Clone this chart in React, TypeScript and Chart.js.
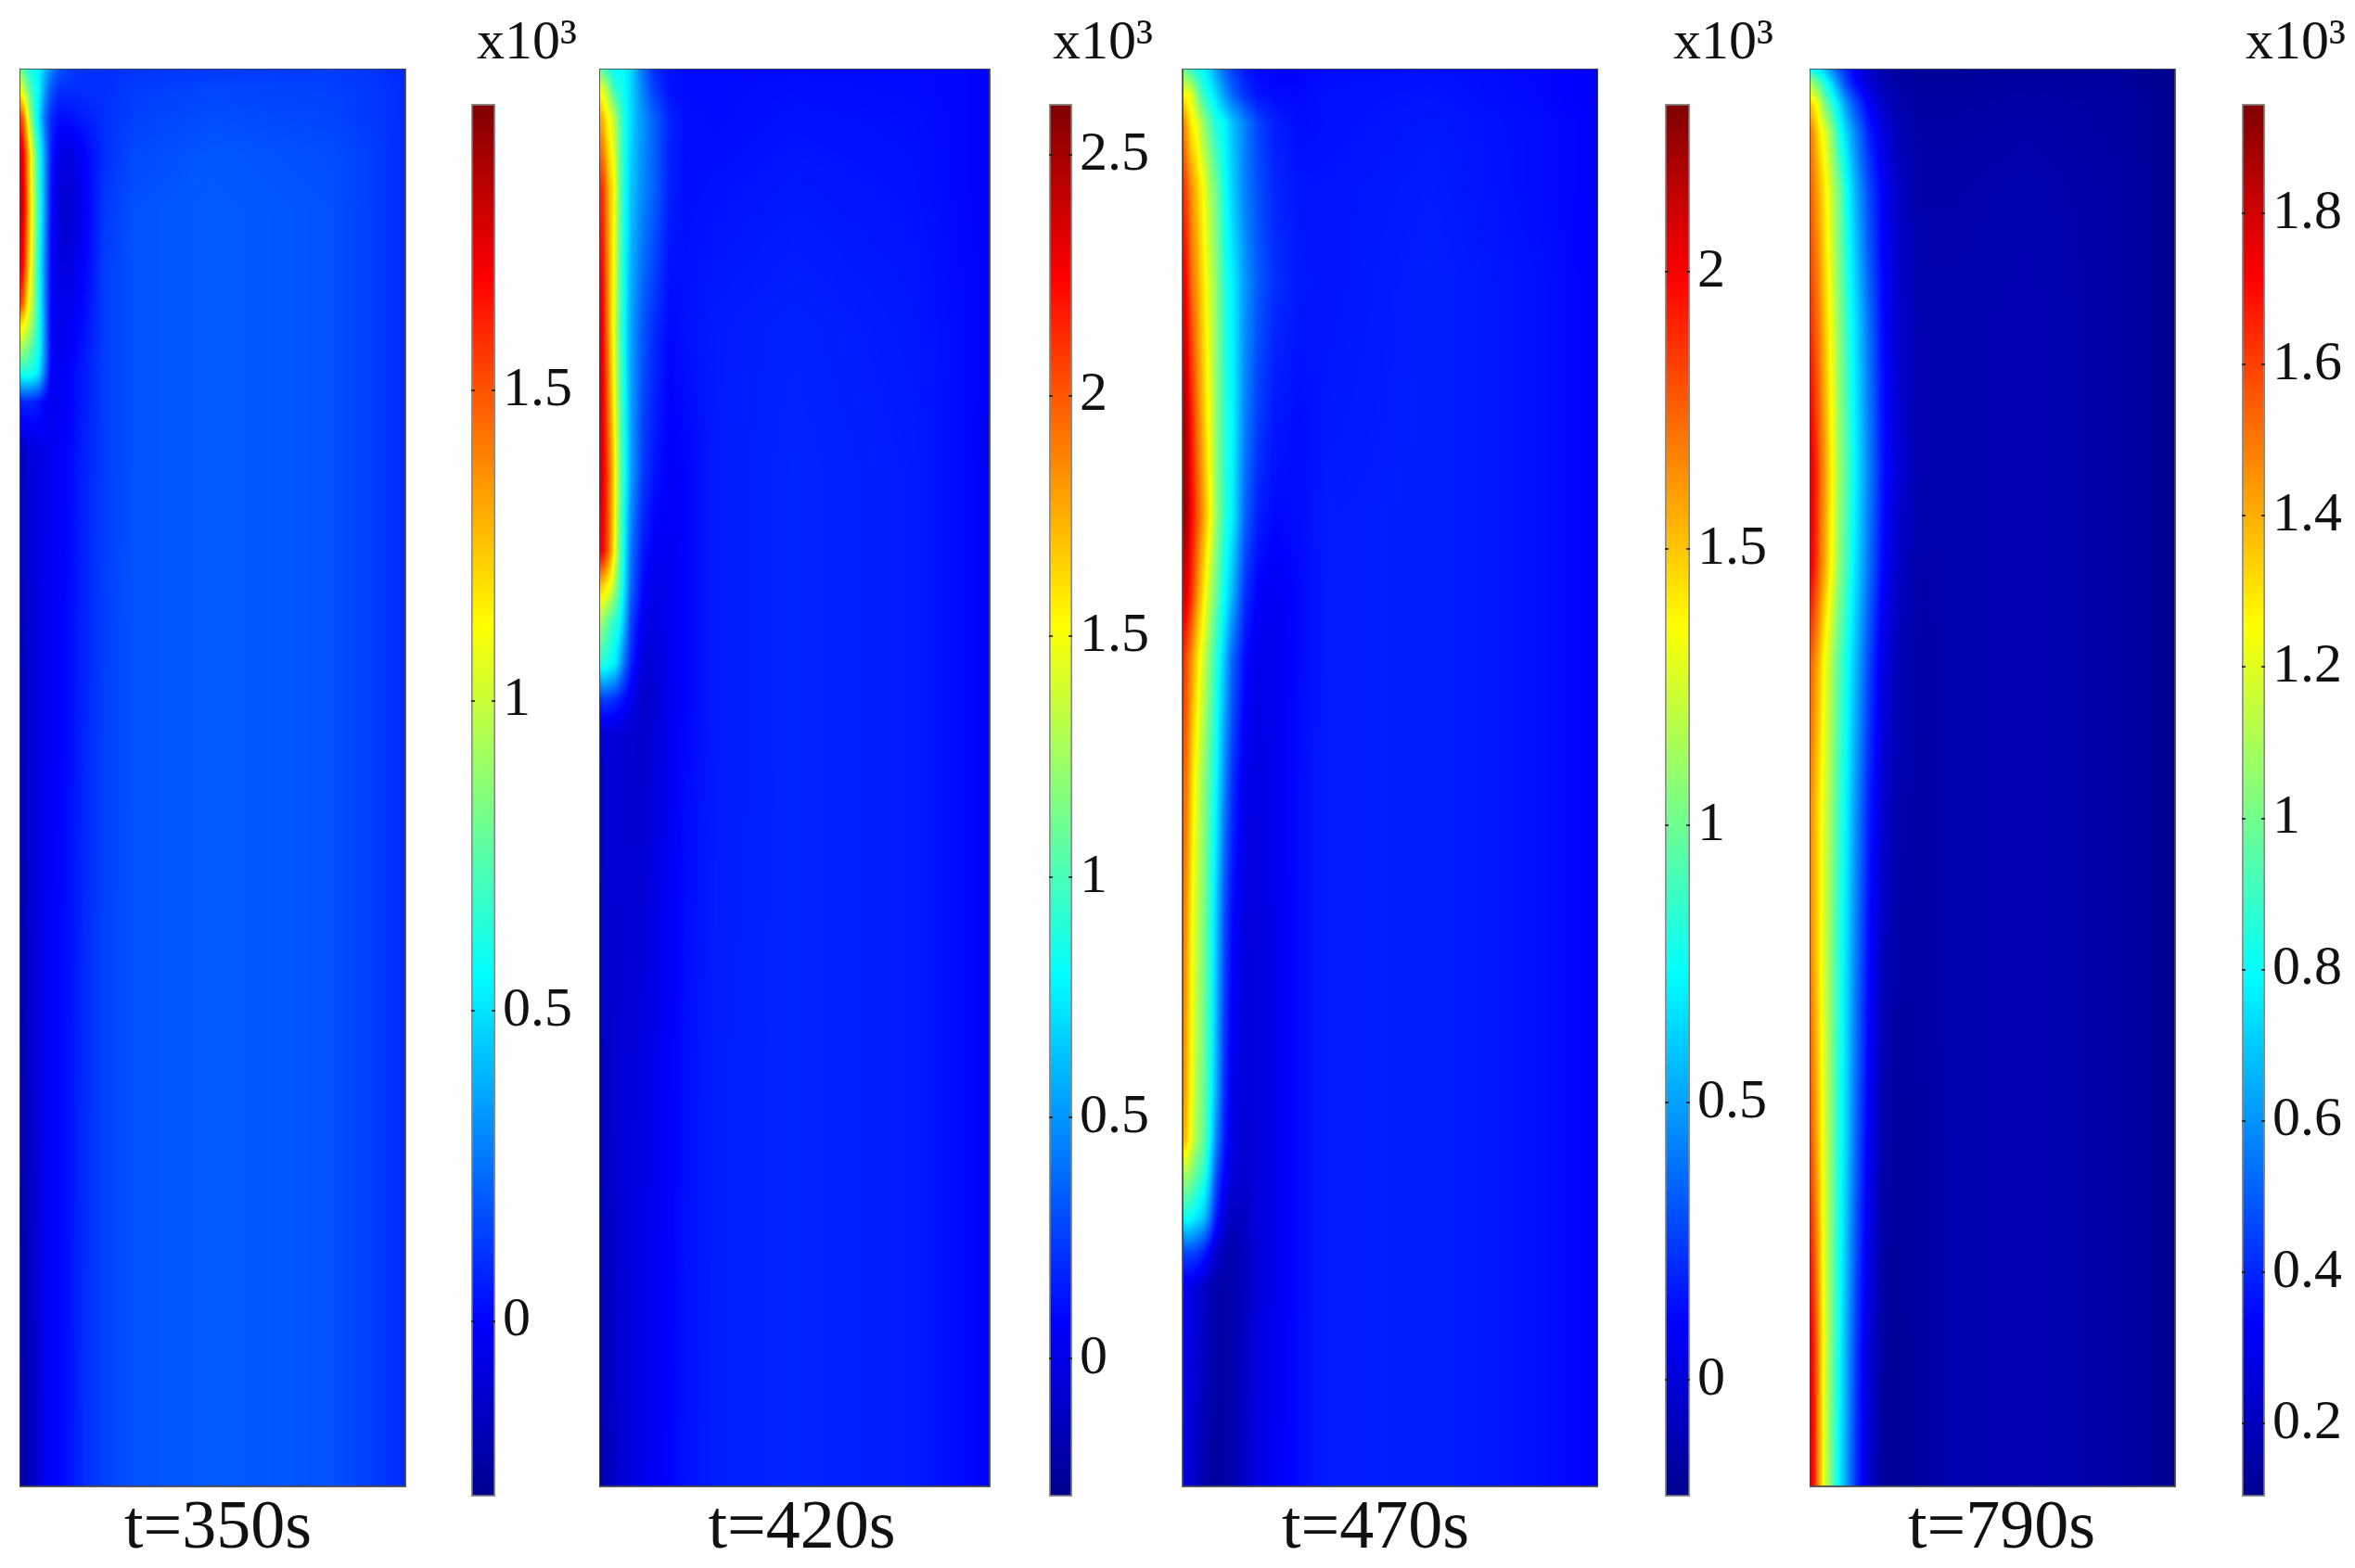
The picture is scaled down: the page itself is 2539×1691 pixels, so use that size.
import React, { useEffect, useRef } from "react";
import { Chart, registerables } from "chart.js";

Chart.register(...registerables);

// ---- data (values in units of 10^3) ----
const labels = ["t=350s", "t=420s", "t=470s", "t=790s"];

const ticks350 = [1.5, 1, 0.5, 0];
const ticks420 = [2.5, 2, 1.5, 1, 0.5, 0];
const ticks470 = [2, 1.5, 1, 0.5, 0];
const ticks790 = [1.8, 1.6, 1.4, 1.2, 1, 0.8, 0.6, 0.4, 0.2];

const range350 = [-0.283, 1.962];
const range420 = [-0.287, 2.606];
const range470 = [-0.211, 2.303];
const range790 = [0.103, 1.945];

const jetStops = [
  [0, 0, 0, 143],
  [0.125, 0, 0, 255],
  [0.375, 0, 255, 255],
  [0.625, 255, 255, 0],
  [0.875, 255, 0, 0],
  [1, 128, 0, 0],
];

const cols350 = [0, 1, 2, 3, 4, 5, 6.5, 8, 10, 13, 17, 22, 30, 50, 80, 92, 100];
const rows350 = [0, 1.5, 3.5, 6, 10, 14, 16.5, 18, 20, 21.5, 23.5, 27, 60, 100];
const field350 = [
  [0.85, 0.75, 0.65, 0.6, 0.58, 0.55, 0.42, 0.3, 0.2, 0.13, 0.1, 0.1, 0.11, 0.12, 0.13, 0.11, 0.08],
  [1.1, 1.0, 0.85, 0.7, 0.62, 0.55, 0.35, 0.2, 0.1, 0.1, 0.1, 0.1, 0.13, 0.15, 0.14, 0.12, 0.09],
  [1.6, 1.45, 1.15, 0.85, 0.65, 0.5, 0.25, 0.1, 0.02, 0.03, 0.06, 0.1, 0.14, 0.17, 0.15, 0.12, 0.09],
  [1.8, 1.7, 1.4, 1.1, 0.85, 0.62, 0.35, 0.08, -0.05, -0.08, 0.0, 0.1, 0.16, 0.19, 0.17, 0.13, 0.09],
  [1.85, 1.75, 1.45, 1.15, 0.9, 0.65, 0.35, 0.05, -0.1, -0.12, -0.02, 0.12, 0.18, 0.2, 0.18, 0.13, 0.09],
  [1.75, 1.65, 1.35, 1.1, 0.85, 0.6, 0.3, 0.03, -0.08, -0.08, 0.0, 0.13, 0.18, 0.2, 0.18, 0.13, 0.09],
  [1.6, 1.45, 1.2, 1.0, 0.82, 0.62, 0.3, 0.02, -0.05, -0.05, 0.02, 0.13, 0.18, 0.2, 0.18, 0.13, 0.09],
  [1.2, 1.15, 1.05, 0.92, 0.78, 0.62, 0.32, 0.02, -0.05, -0.03, 0.03, 0.13, 0.18, 0.2, 0.18, 0.13, 0.09],
  [0.88, 0.85, 0.8, 0.72, 0.66, 0.58, 0.32, 0.03, -0.04, -0.02, 0.05, 0.13, 0.18, 0.2, 0.18, 0.13, 0.09],
  [0.58, 0.62, 0.62, 0.6, 0.56, 0.5, 0.25, 0.0, -0.03, 0, 0.06, 0.13, 0.18, 0.2, 0.18, 0.13, 0.09],
  [0.05, 0.08, 0.08, 0.08, 0.06, 0.05, 0.0, -0.04, -0.03, 0, 0.06, 0.13, 0.18, 0.2, 0.18, 0.13, 0.09],
  [-0.15, -0.13, -0.12, -0.1, -0.08, -0.07, -0.05, -0.04, -0.02, 0.01, 0.07, 0.13, 0.18, 0.2, 0.18, 0.13, 0.09],
  [-0.2, -0.18, -0.15, -0.12, -0.1, -0.08, -0.05, -0.02, 0, 0.03, 0.09, 0.14, 0.18, 0.2, 0.18, 0.13, 0.09],
  [-0.24, -0.22, -0.2, -0.17, -0.14, -0.1, -0.05, -0.02, 0, 0.04, 0.1, 0.14, 0.18, 0.2, 0.18, 0.13, 0.09],
];

const cols420 = [0, 1, 2, 3, 4, 5, 6.5, 8, 11, 14, 18, 22, 30, 50, 80, 92, 100];
const rows420 = [0, 1.5, 3.5, 8.5, 18.5, 28.5, 34, 36.5, 39, 42, 44.5, 47, 70, 100];
const field420 = [
  [1.1, 1.0, 0.95, 0.85, 0.8, 0.8, 0.78, 0.7, 0.4, 0.2, 0.12, 0.1, 0.1, 0.1, 0.1, 0.09, 0.08],
  [1.5, 1.45, 1.3, 1.1, 0.95, 0.9, 0.8, 0.7, 0.45, 0.25, 0.12, 0.1, 0.1, 0.11, 0.1, 0.09, 0.08],
  [1.8, 1.7, 1.55, 1.45, 1.3, 1.1, 0.85, 0.7, 0.5, 0.35, 0.17, 0.11, 0.1, 0.12, 0.11, 0.09, 0.08],
  [2.15, 2.1, 1.85, 1.65, 1.5, 1.15, 0.85, 0.65, 0.47, 0.35, 0.16, 0.11, 0.12, 0.14, 0.12, 0.09, 0.08],
  [2.4, 2.25, 1.95, 1.65, 1.4, 1.1, 0.8, 0.55, 0.32, 0.2, 0.09, 0.12, 0.15, 0.17, 0.14, 0.1, 0.08],
  [2.45, 2.3, 2.1, 1.85, 1.55, 1.2, 0.85, 0.55, 0.25, 0.13, 0.06, 0.08, 0.15, 0.18, 0.15, 0.1, 0.07],
  [2.3, 2.25, 2.05, 1.8, 1.5, 1.15, 0.78, 0.42, 0.15, 0.05, 0.04, 0.08, 0.15, 0.18, 0.15, 0.1, 0.07],
  [1.7, 1.65, 1.55, 1.45, 1.25, 1.05, 0.72, 0.38, 0.1, 0.0, 0.03, 0.08, 0.15, 0.18, 0.15, 0.1, 0.07],
  [1.3, 1.2, 1.1, 0.98, 0.92, 0.85, 0.6, 0.28, 0.03, -0.02, 0.03, 0.08, 0.15, 0.18, 0.15, 0.1, 0.07],
  [0.85, 0.88, 0.85, 0.8, 0.75, 0.62, 0.38, 0.18, -0.04, -0.05, 0.03, 0.08, 0.15, 0.18, 0.15, 0.1, 0.07],
  [0.2, 0.25, 0.25, 0.22, 0.2, 0.16, 0.1, 0.02, -0.09, -0.07, 0.02, 0.08, 0.15, 0.18, 0.15, 0.1, 0.07],
  [-0.1, -0.08, -0.07, -0.06, -0.06, -0.06, -0.07, -0.08, -0.09, -0.05, 0.03, 0.09, 0.15, 0.18, 0.15, 0.1, 0.07],
  [-0.14, -0.12, -0.1, -0.08, -0.07, -0.06, -0.05, -0.04, -0.02, 0.02, 0.06, 0.11, 0.16, 0.18, 0.15, 0.1, 0.07],
  [-0.2, -0.18, -0.15, -0.12, -0.1, -0.08, -0.05, -0.03, 0, 0.04, 0.08, 0.12, 0.16, 0.18, 0.15, 0.1, 0.07],
];

const cols470 = [0, 1, 2, 3.5, 5, 6.5, 8, 10, 12, 15, 18, 22, 28, 35, 60, 85, 100];
const rows470 = [0, 1.8, 3.8, 8.5, 15, 25, 31.5, 37, 41.5, 50, 60, 72, 75.5, 78, 81, 83.5, 86, 100];
const field470 = [
  [1.0, 0.95, 0.85, 0.78, 0.72, 0.62, 0.5, 0.35, 0.25, 0.16, 0.12, 0.11, 0.11, 0.13, 0.14, 0.12, 0.09],
  [1.35, 1.35, 1.3, 1.05, 0.85, 0.75, 0.65, 0.48, 0.35, 0.22, 0.15, 0.12, 0.12, 0.14, 0.15, 0.12, 0.09],
  [1.7, 1.55, 1.4, 1.3, 1.1, 0.95, 0.8, 0.72, 0.58, 0.42, 0.27, 0.18, 0.13, 0.14, 0.16, 0.13, 0.1],
  [1.9, 1.8, 1.65, 1.5, 1.35, 1.15, 1.02, 0.78, 0.62, 0.42, 0.3, 0.2, 0.15, 0.15, 0.17, 0.13, 0.1],
  [2.05, 1.95, 1.75, 1.6, 1.42, 1.25, 1.1, 0.83, 0.7, 0.48, 0.33, 0.22, 0.16, 0.15, 0.18, 0.14, 0.1],
  [2.25, 2.15, 1.95, 1.72, 1.52, 1.32, 1.1, 0.85, 0.72, 0.42, 0.25, 0.16, 0.13, 0.16, 0.18, 0.14, 0.1],
  [2.25, 2.2, 2.0, 1.8, 1.6, 1.38, 1.12, 0.85, 0.7, 0.35, 0.18, 0.12, 0.13, 0.17, 0.18, 0.14, 0.1],
  [2.1, 2.05, 1.9, 1.65, 1.42, 1.2, 1.0, 0.75, 0.55, 0.22, 0.1, 0.07, 0.12, 0.17, 0.18, 0.14, 0.1],
  [1.9, 1.8, 1.65, 1.45, 1.25, 1.05, 0.85, 0.6, 0.35, 0.13, 0.05, 0.06, 0.12, 0.17, 0.18, 0.14, 0.1],
  [1.75, 1.7, 1.5, 1.28, 1.1, 0.92, 0.75, 0.45, 0.22, 0.05, 0.02, 0.06, 0.13, 0.17, 0.18, 0.14, 0.1],
  [1.7, 1.6, 1.4, 1.2, 1.05, 0.85, 0.62, 0.3, 0.12, 0.02, 0.01, 0.05, 0.13, 0.17, 0.18, 0.14, 0.1],
  [1.65, 1.55, 1.35, 1.15, 1.0, 0.8, 0.55, 0.22, 0.05, 0.0, 0.01, 0.05, 0.13, 0.17, 0.18, 0.14, 0.1],
  [1.55, 1.5, 1.3, 1.12, 0.98, 0.75, 0.45, 0.18, 0.03, -0.02, 0.01, 0.05, 0.13, 0.17, 0.18, 0.14, 0.1],
  [1.1, 1.15, 1.05, 0.95, 0.85, 0.62, 0.32, 0.1, 0, -0.04, 0.01, 0.05, 0.13, 0.17, 0.18, 0.14, 0.1],
  [0.75, 0.78, 0.75, 0.68, 0.6, 0.42, 0.18, 0.0, -0.08, -0.06, 0.01, 0.05, 0.13, 0.17, 0.18, 0.14, 0.1],
  [0.25, 0.28, 0.27, 0.25, 0.18, 0.08, -0.03, -0.1, -0.12, -0.07, 0.0, 0.05, 0.13, 0.17, 0.18, 0.14, 0.1],
  [0.05, 0.05, 0.03, 0.0, -0.05, -0.1, -0.13, -0.15, -0.12, -0.07, 0.0, 0.05, 0.13, 0.17, 0.18, 0.14, 0.1],
  [0.02, 0.0, -0.03, -0.07, -0.12, -0.15, -0.17, -0.16, -0.12, -0.05, 0.03, 0.07, 0.13, 0.17, 0.18, 0.14, 0.1],
];

const cols790 = [0, 1, 2.5, 4, 6, 8, 10, 13, 16, 20, 24, 30, 40, 60, 85, 95, 100];
const rows790 = [0, 1, 2.5, 4.5, 8.5, 18.5, 28.5, 35, 42, 52, 62, 75, 90, 100];
const field790 = [
  [0.8, 0.78, 0.75, 0.68, 0.58, 0.48, 0.4, 0.3, 0.22, 0.17, 0.14, 0.12, 0.12, 0.13, 0.13, 0.11, 0.1],
  [1.1, 1.05, 0.95, 0.85, 0.72, 0.58, 0.45, 0.33, 0.25, 0.18, 0.15, 0.13, 0.13, 0.14, 0.13, 0.11, 0.1],
  [1.35, 1.3, 1.2, 1.02, 0.88, 0.75, 0.6, 0.45, 0.33, 0.22, 0.17, 0.14, 0.14, 0.15, 0.14, 0.12, 0.1],
  [1.5, 1.45, 1.3, 1.22, 1.05, 0.85, 0.72, 0.55, 0.4, 0.27, 0.19, 0.15, 0.15, 0.16, 0.14, 0.12, 0.1],
  [1.55, 1.5, 1.4, 1.3, 1.15, 1.0, 0.83, 0.63, 0.47, 0.32, 0.22, 0.16, 0.16, 0.17, 0.15, 0.12, 0.1],
  [1.65, 1.6, 1.5, 1.38, 1.22, 1.05, 0.9, 0.72, 0.55, 0.35, 0.24, 0.17, 0.17, 0.18, 0.15, 0.12, 0.1],
  [1.78, 1.72, 1.58, 1.45, 1.27, 1.08, 0.95, 0.75, 0.58, 0.37, 0.25, 0.17, 0.17, 0.18, 0.15, 0.12, 0.1],
  [1.75, 1.7, 1.55, 1.42, 1.25, 1.05, 0.92, 0.72, 0.55, 0.34, 0.22, 0.16, 0.17, 0.18, 0.15, 0.12, 0.1],
  [1.55, 1.5, 1.38, 1.25, 1.1, 0.95, 0.83, 0.65, 0.47, 0.28, 0.19, 0.15, 0.17, 0.18, 0.15, 0.12, 0.1],
  [1.48, 1.42, 1.3, 1.2, 1.05, 0.9, 0.78, 0.58, 0.4, 0.24, 0.17, 0.15, 0.17, 0.18, 0.15, 0.12, 0.1],
  [1.5, 1.42, 1.3, 1.18, 1.02, 0.87, 0.74, 0.54, 0.36, 0.2, 0.15, 0.15, 0.17, 0.18, 0.15, 0.12, 0.1],
  [1.6, 1.5, 1.35, 1.2, 1.02, 0.85, 0.72, 0.5, 0.32, 0.17, 0.13, 0.14, 0.17, 0.18, 0.15, 0.12, 0.1],
  [1.75, 1.68, 1.45, 1.22, 1.0, 0.82, 0.65, 0.42, 0.26, 0.14, 0.12, 0.14, 0.17, 0.18, 0.15, 0.12, 0.1],
  [1.78, 1.7, 1.45, 1.2, 0.98, 0.78, 0.62, 0.4, 0.24, 0.13, 0.12, 0.14, 0.17, 0.18, 0.15, 0.12, 0.1],
];

// ---- layout ----
const SERIF = "'Liberation Serif', 'Times New Roman', serif";
const PANEL_TOP = 74;
const PANEL_H = 1529;
const BAR_TOP = 112;
const BAR_H = 1502;
const TITLE_TOP = 17;

const panels = [
  { label: labels[0], cols: cols350, rows: rows350, field: field350, range: range350, ticks: ticks350, x: 21, w: 416, labelShift: 6, barX: 508, barW: 26, barEnd: 622 },
  { label: labels[1], cols: cols420, rows: rows420, field: field420, range: range420, ticks: ticks420, x: 646, w: 421, labelShift: 8, barX: 1131, barW: 25, barEnd: 1243 },
  { label: labels[2], cols: cols470, rows: rows470, field: field470, range: range470, ticks: ticks470, x: 1275, w: 448, labelShift: -16, barX: 1795, barW: 27, barEnd: 1912 },
  { label: labels[3], cols: cols790, rows: rows790, field: field790, range: range790, ticks: ticks790, x: 1951, w: 394, labelShift: 10, barX: 2417, barW: 25, barEnd: 2529 },
];

function jet(t: number): [number, number, number] {
  const c = Math.max(0, Math.min(1, t));
  for (let i = 1; i < jetStops.length; i++) {
    const a = jetStops[i - 1];
    const b = jetStops[i];
    if (c <= b[0]) {
      const f = (c - a[0]) / (b[0] - a[0]);
      return [a[1] + (b[1] - a[1]) * f, a[2] + (b[2] - a[2]) * f, a[3] + (b[3] - a[3]) * f];
    }
  }
  return [128, 0, 0];
}

function locate(arr: number[], v: number): [number, number] {
  let i = 0;
  while (i < arr.length - 2 && v > arr[i + 1]) i++;
  const f = (v - arr[i]) / (arr[i + 1] - arr[i]);
  return [i, Math.max(0, Math.min(1, f))];
}

function heatPlugin(p: (typeof panels)[number]) {
  return {
    id: "field",
    afterDatasetsDraw(chart: any) {
      const { ctx, chartArea, scales } = chart;
      const left = Math.round(chartArea.left);
      const top = Math.round(chartArea.top);
      const w = Math.round(chartArea.right - chartArea.left);
      const h = Math.round(chartArea.bottom - chartArea.top);
      const img = ctx.createImageData(w, h);
      const xLoc = [];
      for (let px = 0; px < w; px++) xLoc.push(locate(p.cols, scales.x.getValueForPixel(left + px + 0.5)));
      const [lo, hi] = p.range;
      for (let py = 0; py < h; py++) {
        const [ri, rf] = locate(p.rows, scales.y.getValueForPixel(top + py + 0.5));
        const r0 = p.field[ri];
        const r1 = p.field[ri + 1];
        for (let px = 0; px < w; px++) {
          const [ci, cf] = xLoc[px];
          const a = r0[ci] + (r0[ci + 1] - r0[ci]) * cf;
          const b = r1[ci] + (r1[ci + 1] - r1[ci]) * cf;
          const v = a + (b - a) * rf;
          const [R, G, B] = jet((v - lo) / (hi - lo));
          const k = (py * w + px) * 4;
          img.data[k] = R;
          img.data[k + 1] = G;
          img.data[k + 2] = B;
          img.data[k + 3] = 255;
        }
      }
      ctx.putImageData(img, left, top);
      ctx.save();
      ctx.strokeStyle = "rgba(70,70,70,0.85)";
      ctx.lineWidth = 2;
      ctx.strokeRect(left, top, w, h);
      ctx.restore();
    },
  };
}

function barGradient(chart: any) {
  const area = chart.chartArea;
  if (!area) return "#0000ff";
  const g = chart.ctx.createLinearGradient(0, area.bottom, 0, area.top);
  jetStops.forEach((s) => g.addColorStop(s[0], `rgb(${s[1]},${s[2]},${s[3]})`));
  return g;
}

function HeatPanel({ p }: { p: (typeof panels)[number] }) {
  const ref = useRef<HTMLCanvasElement>(null);
  const gutter = 2 * Math.abs(p.labelShift);
  const gutterLeft = p.labelShift < 0;
  const width = p.w + gutter;
  const height = PANEL_H + 84;
  useEffect(() => {
    const nodes: { x: number; y: number }[] = [];
    p.rows.forEach((y) => p.cols.forEach((x) => nodes.push({ x, y })));
    const chart = new Chart(ref.current as HTMLCanvasElement, {
      type: "scatter",
      data: { datasets: [{ label: p.label, data: nodes, pointRadius: 0, showLine: false }] },
      options: {
        animation: false,
        responsive: false,
        devicePixelRatio: 1,
        plugins: {
          legend: { display: false },
          tooltip: { enabled: false },
          title: {
            display: true,
            text: p.label,
            position: "bottom",
            align: "center",
            color: "#111",
            font: { family: SERIF, size: 74, weight: "normal", lineHeight: 1 },
            padding: { top: 10, bottom: 0 },
          },
        },
        scales: {
          x: { type: "linear", min: 0, max: 100, display: false },
          y: {
            type: "linear",
            min: 0,
            max: 100,
            reverse: true,
            position: gutterLeft ? "left" : "right",
            ticks: { display: false },
            grid: { display: false },
            border: { display: false },
            afterFit: (s: any) => {
              s.width = gutter;
              s.paddingTop = 0;
              s.paddingBottom = 0;
            },
          },
        },
      },
      plugins: [heatPlugin(p)],
    } as any);
    return () => chart.destroy();
  }, []);
  return (
    <canvas
      ref={ref}
      width={width}
      height={height}
      style={{ position: "absolute", left: p.x - (gutterLeft ? gutter : 0), top: PANEL_TOP, width, height }}
    />
  );
}

function ColorBar({ p }: { p: (typeof panels)[number] }) {
  const ref = useRef<HTMLCanvasElement>(null);
  const width = p.barEnd - p.barX;
  const height = BAR_TOP - TITLE_TOP + BAR_H + 10;
  const axisW = width - p.barW;
  useEffect(() => {
    const chart = new Chart(ref.current as HTMLCanvasElement, {
      type: "bar",
      data: {
        labels: ["scale"],
        datasets: [
          {
            label: p.label,
            data: [p.range],
            backgroundColor: (c: any) => barGradient(c.chart),
            borderColor: "rgba(110,110,110,0.8)",
            borderWidth: 2,
            borderSkipped: false,
            barPercentage: 1,
            categoryPercentage: 1,
          },
        ],
      },
      options: {
        animation: false,
        responsive: false,
        devicePixelRatio: 1,
        layout: { padding: { left: 0, right: 0, top: 0, bottom: 10 } },
        plugins: {
          legend: { display: false },
          tooltip: { enabled: false },
          title: {
            display: true,
            text: "x10³",
            position: "top",
            align: "end",
            color: "#111",
            font: { family: SERIF, size: 60, weight: "normal", lineHeight: 1 },
            padding: { top: 0, bottom: BAR_TOP - TITLE_TOP - 60 },
          },
        },
        scales: {
          x: { type: "category", display: false },
          y: {
            type: "linear",
            position: "right",
            min: p.range[0],
            max: p.range[1],
            afterBuildTicks: (s: any) => {
              s.ticks = p.ticks.map((value) => ({ value }));
            },
            afterFit: (s: any) => {
              s.width = axisW;
              s.paddingTop = 0;
              s.paddingBottom = 0;
            },
            border: { display: false, dash: [4, Math.max(1, p.barW - 8), 4, 0] },
            grid: { color: "rgba(20,20,20,0.75)", lineWidth: 2, z: 1, drawTicks: false },
            ticks: {
              color: "#111",
              padding: 8,
              autoSkip: false,
              font: { family: SERIF, size: 60 },
              callback: (v: any) => String(v),
            },
          },
        },
      },
    } as any);
    return () => chart.destroy();
  }, []);
  return (
    <canvas
      ref={ref}
      width={width}
      height={height}
      style={{ position: "absolute", left: p.barX, top: TITLE_TOP, width, height }}
    />
  );
}

export default function App() {
  return (
    <div style={{ position: "absolute", left: 0, top: 0, width: 2539, height: 1691, background: "#fff", overflow: "hidden" }}>
      {panels.map((p) => (
        <React.Fragment key={p.label}>
          <HeatPanel p={p} />
          <ColorBar p={p} />
        </React.Fragment>
      ))}
    </div>
  );
}
